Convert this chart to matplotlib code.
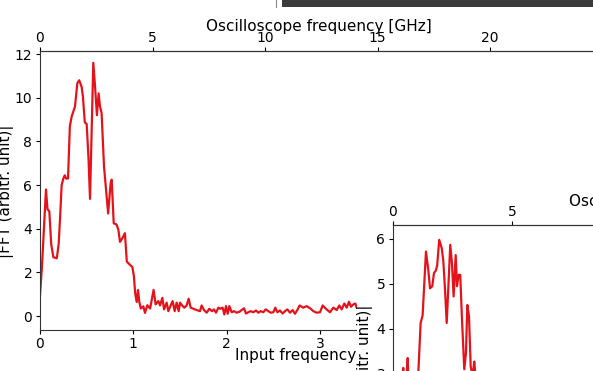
import numpy as np
import matplotlib
matplotlib.use("Agg")
import matplotlib.pyplot as plt
from matplotlib.patches import Rectangle
from matplotlib.lines import Line2D

# FFT of the input trace (input frequency units)
input_freq = [0.0, 0.02, 0.045, 0.064, 0.08, 0.10, 0.12, 0.143, 0.18, 0.20, 0.215,
              0.232, 0.25, 0.265, 0.28, 0.30, 0.32, 0.34, 0.375, 0.40, 0.42, 0.446,
              0.46, 0.48, 0.50, 0.52, 0.536, 0.571, 0.59, 0.61, 0.628, 0.643, 0.66,
              0.686, 0.707, 0.73, 0.757, 0.768, 0.79, 0.82, 0.84, 0.857, 0.88, 0.91,
              0.93, 0.964, 0.99, 1.007, 1.02, 1.036, 1.05, 1.064, 1.08, 1.107, 1.125,
              1.15, 1.18, 1.217, 1.239, 1.268, 1.286, 1.311, 1.329, 1.357, 1.375, 1.40,
              1.421, 1.443, 1.464, 1.486, 1.50, 1.529, 1.546, 1.571, 1.593, 1.614,
              1.643, 1.679, 1.714, 1.732, 1.757, 1.786, 1.814, 1.843, 1.864, 1.886,
              1.911, 1.929, 1.957, 1.975, 1.993, 2.011, 2.029, 2.054, 2.079, 2.107,
              2.136, 2.161, 2.186, 2.207, 2.232, 2.257, 2.286, 2.314, 2.339, 2.364,
              2.393, 2.418, 2.446, 2.471, 2.50, 2.521, 2.543, 2.571, 2.60, 2.625,
              2.65, 2.679, 2.707, 2.732, 2.757, 2.782, 2.821, 2.857, 2.90, 2.929,
              2.964, 3.0, 3.029, 3.071, 3.107, 3.143, 3.179, 3.207, 3.232, 3.261,
              3.286, 3.311, 3.332, 3.357, 3.379, 3.393, 3.42, 3.45]
fft_mag = [0.96, 2.2, 4.3, 5.8, 4.9, 4.8, 3.3, 2.7, 2.65, 3.3, 4.5,
           6.0, 6.3, 6.45, 6.3, 6.3, 8.7, 9.15, 9.6, 10.67, 10.8, 10.5,
           10.05, 8.87, 8.8, 7.2, 5.37, 11.6, 10.5, 9.2, 10.2, 9.6, 9.3,
           6.85, 5.8, 4.7, 6.1, 6.25, 4.25, 4.2, 3.95, 3.4, 3.55, 3.8,
           2.5, 2.35, 2.25, 1.8, 1.04, 0.65, 1.2, 0.65, 0.35, 0.45, 0.15,
           0.5, 0.35, 1.2, 0.54, 0.69, 0.49, 0.84, 0.31, 0.62, 0.23, 0.49,
           0.69, 0.23, 0.62, 0.23, 0.62, 0.46, 0.39, 0.49, 0.80, 0.39,
           0.34, 0.28, 0.23, 0.49, 0.28, 0.16, 0.34, 0.23, 0.31, 0.16,
           0.39, 0.34, 0.39, 0.08, 0.46, 0.11, 0.46, 0.18, 0.23, 0.16,
           0.2, 0.28, 0.36, 0.12, 0.18, 0.23, 0.18, 0.26, 0.16, 0.23,
           0.18, 0.31, 0.23, 0.16, 0.18, 0.39, 0.18, 0.26, 0.12, 0.23,
           0.31, 0.16, 0.28, 0.11, 0.28, 0.49, 0.39, 0.46, 0.34, 0.23,
           0.16, 0.18, 0.49, 0.31, 0.18, 0.39, 0.28, 0.49, 0.31, 0.58,
           0.39, 0.66, 0.43, 0.54, 0.58, 0.39, 0.45, 0.35]

# FFT of the second trace
input_freq_b = [0.0, 0.03, 0.06, 0.09, 0.104, 0.115, 0.13, 0.149, 0.16, 0.19, 0.22,
                0.256, 0.28, 0.30, 0.334, 0.358, 0.375, 0.398, 0.415, 0.435, 0.448,
                0.468, 0.493, 0.509, 0.527, 0.544, 0.564, 0.58, 0.597, 0.614, 0.635,
                0.648, 0.665, 0.681, 0.699, 0.722, 0.739, 0.753, 0.77, 0.787, 0.807,
                0.823, 0.837, 0.87, 0.90, 1.0, 1.1, 1.2]
fft_mag_b = [1.0, 1.8, 2.6, 2.9, 3.13, 2.8, 2.7, 3.35, 2.6, 2.2, 2.5,
             3.0, 4.13, 4.3, 5.72, 5.3, 4.9, 4.95, 5.24, 5.3, 5.42,
             5.98, 5.8, 5.53, 4.87, 4.13, 5.09, 5.87, 5.47, 4.72, 5.64,
             4.95, 5.2, 5.2, 4.2, 3.1, 3.46, 4.53, 4.27, 3.16, 2.95,
             3.27, 2.9, 2.6, 2.4, 1.5, 0.6, 0.4]

W, H = 593, 371
K = 4.148  # input frequency -> oscilloscope frequency [GHz]
red = '#e4131b'


def fx(px):
    return px / W


def fy(py):
    return 1 - py / H


plt.rcParams['font.size'] = 10
for a in ('xtick', 'ytick'):
    plt.rcParams[a + '.major.size'] = 3
    plt.rcParams[a + '.major.pad'] = 2.5
plt.rcParams['axes.edgecolor'] = '#333333'
fig = plt.figure(figsize=(W / 100, H / 100), dpi=100)

# left plot
ax1 = fig.add_axes([fx(40), fy(329.5), fx(640) - fx(40), fy(51) - fy(329.5)])
ax1.plot(input_freq, fft_mag, color=red, lw=1.6)
ax1.set_xlim(0, 600 / 93.33)
ax1.set_ylim(-0.61, 12.14)
ax1.set_xticks([0, 1, 2, 3, 4, 5, 6])
ax1.set_yticks([0, 2, 4, 6, 8, 10, 12])
ax1.spines['right'].set_visible(False)
ax1.set_xlabel('Input frequency', fontsize=11)
ax1.xaxis.set_label_coords(fx(296), fy(348), transform=fig.transFigure)
ax1.set_ylabel('|FFT (arbitr. unit)|', fontsize=11)
ax1.yaxis.set_label_coords(fx(14), fy(191), transform=fig.transFigure)
top1 = ax1.secondary_xaxis('top', functions=(lambda x: x * K, lambda x: x / K))
top1.set_xticks([0, 5, 10, 15, 20, 25])
top1.tick_params(pad=1)
top1.set_xlabel('Oscilloscope frequency [GHz]', fontsize=11)
top1.xaxis.set_label_coords(fx(318.5), fy(31), transform=fig.transFigure)

# white background of the right plot
fig.add_artist(Rectangle((fx(357), 0), 1 - fx(357), fy(185), transform=fig.transFigure,
                         facecolor='white', edgecolor='none', zorder=1))

# right plot
px_per_unit = 23.8 * K
ax2 = fig.add_axes([fx(393), fy(522), fx(1000) - fx(393), fy(225) - fy(522)])
ax2.set_zorder(2)
ax2.plot(input_freq_b, fft_mag_b, color=red, lw=1.6)
ax2.set_xlim(0, 607 / px_per_unit)
ax2.set_ylim(-0.3, 6.31)
ax2.set_yticks([0, 1, 2, 3, 4, 5, 6])
ax2.spines['right'].set_visible(False)
ax2.set_ylabel('|FFT (arbitr. unit)|', fontsize=11)
ax2.yaxis.set_label_coords(fx(373), fy(371.5), transform=fig.transFigure)
top2 = ax2.secondary_xaxis('top', functions=(lambda x: x * K, lambda x: x / K))
top2.set_xticks([0, 5, 10, 15, 20, 25])
top2.tick_params(pad=1)
top2.set_xlabel('Oscilloscope frequency [GHz]', fontsize=11)
top2.xaxis.set_label_coords(fx(681.5), fy(206), transform=fig.transFigure)

# window bar along the top edge
fig.add_artist(Rectangle((fx(282), fy(7)), 1 - fx(282), fy(0) - fy(7),
                         transform=fig.transFigure, facecolor='#3b3b3b',
                         edgecolor='none', zorder=3))
fig.add_artist(Line2D([fx(275.5), fx(275.5)], [fy(7), 1], transform=fig.transFigure,
                      color='#8a8a8a', lw=0.8, zorder=3))

fig.savefig('out.png', dpi=100)
